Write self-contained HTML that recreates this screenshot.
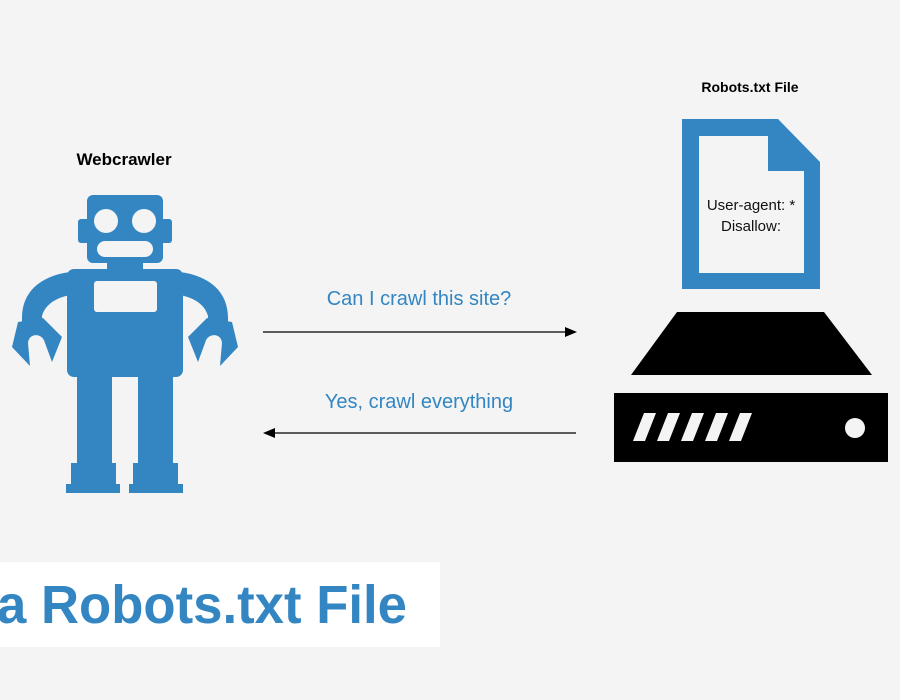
<!DOCTYPE html>
<html><head><meta charset="utf-8"><style>html,body{margin:0;padding:0;background:#f4f4f4}svg{display:block}</style></head>
<body>
<svg width="900" height="700" viewBox="0 0 900 700" xmlns="http://www.w3.org/2000/svg" font-family="Liberation Sans, sans-serif">
<rect width="900" height="700" fill="#f4f4f4"/>
<g fill="#3386c2">
<rect x="87" y="195" width="76" height="68" rx="6"/>
<rect x="78" y="219" width="12" height="24" rx="3"/>
<rect x="160" y="219" width="12" height="24" rx="3"/>
<rect x="107" y="260" width="36" height="12"/>
<rect x="67" y="269" width="116" height="108" rx="7"/>
<path d="M70 272 C40 276 22 292 22 318 L22 322 L42 322 L42 316 C45 305 55 298 70 295 Z"/>
<path d="M180 272 C210 276 228 292 228 318 L228 322 L208 322 L208 316 C205 305 195 298 180 295 Z"/>
<path d="M18 322 L12 347 L30 366 L28 343 C29 332 43 333 45 343 L52 362 L62 337 L43 318 Z"/>
<path d="M232 322 L238 347 L220 366 L222 343 C221 332 207 333 205 343 L198 362 L188 337 L207 318 Z"/>
<rect x="77" y="375" width="35" height="92"/>
<rect x="138" y="375" width="35" height="92"/>
<rect x="71" y="463" width="45" height="24"/>
<rect x="66" y="484" width="54" height="9"/>
<rect x="133" y="463" width="45" height="24"/>
<rect x="129" y="484" width="54" height="9"/>
</g>
<g fill="#f4f4f4">
<circle cx="106" cy="221" r="12"/>
<circle cx="144" cy="221" r="12"/>
<rect x="97" y="241" width="56" height="16" rx="8"/>
<rect x="94" y="281" width="63" height="31" rx="3"/>
</g>
<text x="124" y="165" text-anchor="middle" font-weight="bold" font-size="17" fill="#000">Webcrawler</text>
<path d="M682 119 L778 119 L820 162 L820 289 L682 289 Z" fill="#3386c2"/>
<path d="M699 136 L768 136 L768 171 L804 171 L804 273 L699 273 Z" fill="#f4f4f4"/>
<text x="750" y="87" dy="5" text-anchor="middle" font-weight="bold" font-size="14" fill="#000">Robots.txt File</text>
<text x="751" y="210" text-anchor="middle" font-size="15" fill="#111">User-agent: *</text>
<text x="751" y="231" text-anchor="middle" font-size="15" fill="#111">Disallow:</text>
<path d="M677 312 L824 312 L872 375 L631 375 Z" fill="#000"/>
<rect x="614" y="393" width="274" height="69" fill="#000"/>
<g fill="#f4f4f4">
<path d="M644 413 L656 413 L645 441 L633 441 Z"/>
<path d="M668 413 L680 413 L669 441 L657 441 Z"/>
<path d="M692 413 L704 413 L693 441 L681 441 Z"/>
<path d="M716 413 L728 413 L717 441 L705 441 Z"/>
<path d="M740 413 L752 413 L741 441 L729 441 Z"/>
<circle cx="855" cy="428" r="10"/>
</g>
<line x1="263" y1="332" x2="568" y2="332" stroke="#000" stroke-width="1.3"/>
<path d="M577 332 L565 327 L565 337 Z" fill="#000"/>
<line x1="272" y1="433" x2="576" y2="433" stroke="#000" stroke-width="1.3"/>
<path d="M263 433 L275 428 L275 438 Z" fill="#000"/>
<text x="419" y="305" text-anchor="middle" font-size="20" fill="#3386c2">Can I crawl this site?</text>
<text x="419" y="408" text-anchor="middle" font-size="20" fill="#3386c2">Yes, crawl everything</text>
<rect x="0" y="562" width="440" height="85" fill="#fff"/>
<text x="-3" y="623" font-weight="bold" font-size="54" fill="#3386c2" textLength="410" lengthAdjust="spacingAndGlyphs">a Robots.txt File</text>
</svg>
</body></html>
